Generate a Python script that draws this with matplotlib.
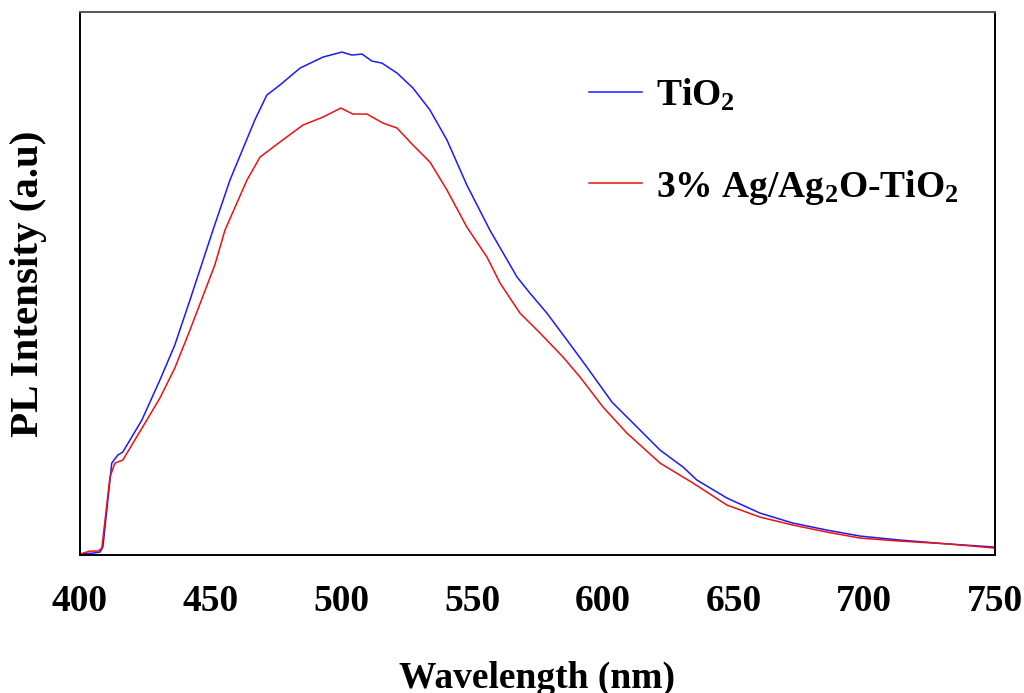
#!/usr/bin/env python3

import matplotlib

matplotlib.use("Agg")
import matplotlib.pyplot as plt

# PL spectra (wavelength in nm, intensity in a.u.)
tio2_wavelength = [
    400, 405.0, 407.7, 408.8, 412.2, 414.5, 416.4, 423.7, 430.6, 436.3,
    442.1, 450.9, 457.4, 466.9, 471.5, 476.5, 484.2, 493.0, 500.2, 504.0,
    507.9, 511.7, 515.5, 521.3, 527.4, 533.9, 540.4, 548.0, 556.8, 567.2,
    572.1, 578.6, 586.3, 593.9, 603.5, 613.1, 621.9, 630.7, 636.0, 647.5,
    660.1, 672.7, 685.7, 698.4, 713.7, 732.8, 750,
]
tio2_intensity = [
    1, 2, 3, 8, 92, 100, 103, 135, 175, 210,
    255, 325, 375, 435, 460, 470, 487, 498, 503, 500,
    501, 494, 492, 482, 467, 445, 415, 370, 325, 278,
    262, 242, 215, 188, 153, 128, 105, 88, 75, 57,
    42, 32, 25, 19, 15, 11, 8,
]

ag_wavelength = [
    400, 403.8, 406.9, 408.4, 411.5, 413.4, 416.4, 425.6, 430.6, 436.3,
    442.1, 451.6, 455.5, 463.9, 468.9, 476.5, 485.3, 493.0, 499.8, 504.4,
    509.8, 515.9, 521.3, 527.4, 533.9, 540.4, 548.0, 555.7, 560.7, 568.3,
    576.0, 584.8, 591.3, 600.1, 609.2, 621.9, 634.5, 647.5, 660.1, 672.7,
    685.7, 698.4, 713.7, 732.8, 750,
]
ag_intensity = [
    1, 4, 4, 7, 78, 92, 95, 135, 157, 187,
    225, 290, 325, 375, 398, 413, 430, 438, 447, 441,
    441, 432, 427, 410, 393, 365, 328, 298, 272, 242,
    222, 198, 178, 148, 122, 92, 72, 50, 38, 30,
    23, 17, 14, 11, 7,
]

series_labels = [r"TiO$_2$", r"3% Ag/Ag$_2$O-TiO$_2$"]
x_ticks = [400, 450, 500, 550, 600, 650, 700, 750]

plt.rcParams["font.family"] = ["Liberation Serif", "DejaVu Serif"]
plt.rcParams["font.weight"] = "bold"
plt.rcParams["mathtext.fontset"] = "custom"
plt.rcParams["mathtext.rm"] = "Liberation Serif:bold"
plt.rcParams["mathtext.default"] = "rm"

fig = plt.figure(figsize=(10.24, 6.93), dpi=100)
ax = fig.add_axes([0.078, 0.199, 0.8937, 0.7836])

ax.plot(tio2_wavelength, tio2_intensity, color="#1a1aff", linewidth=1.1, label=series_labels[0])
ax.plot(ag_wavelength, ag_intensity, color="#ee1111", linewidth=1.1, label=series_labels[1])

ax.set_xlim(400, 750)
ax.set_ylim(0, 543)
ax.set_xticks(x_ticks)
ax.set_yticks([])
ax.tick_params(axis="x", length=0, pad=21, labelsize=27)
for label in ax.get_xticklabels():
    label.set_fontweight("bold")

ax.set_xlabel("Wavelength (nm)", fontsize=27, fontweight="bold", labelpad=30)
ax.set_ylabel("PL Intensity (a.u)", fontsize=29.5, fontweight="bold")
# no y ticks, so pin the label where the reference has it
ax.yaxis.set_label_coords(-0.036, 0.5)

for side in ["left", "right", "bottom"]:
    ax.spines[side].set_linewidth(1.4)
    ax.spines[side].set_color("black")
ax.spines["top"].set_linewidth(1.4)
ax.spines["top"].set_color("#555555")

legend = ax.legend(
    loc="upper left",
    bbox_to_anchor=(0.52, 0.943),
    frameon=False,
    fontsize=27,
    handlelength=1.4,
    handletextpad=0.38,
    labelspacing=1.45,
)
for text in legend.get_texts():
    text.set_fontweight("bold")

fig.savefig("out.png", dpi=100)
plt.close(fig)
